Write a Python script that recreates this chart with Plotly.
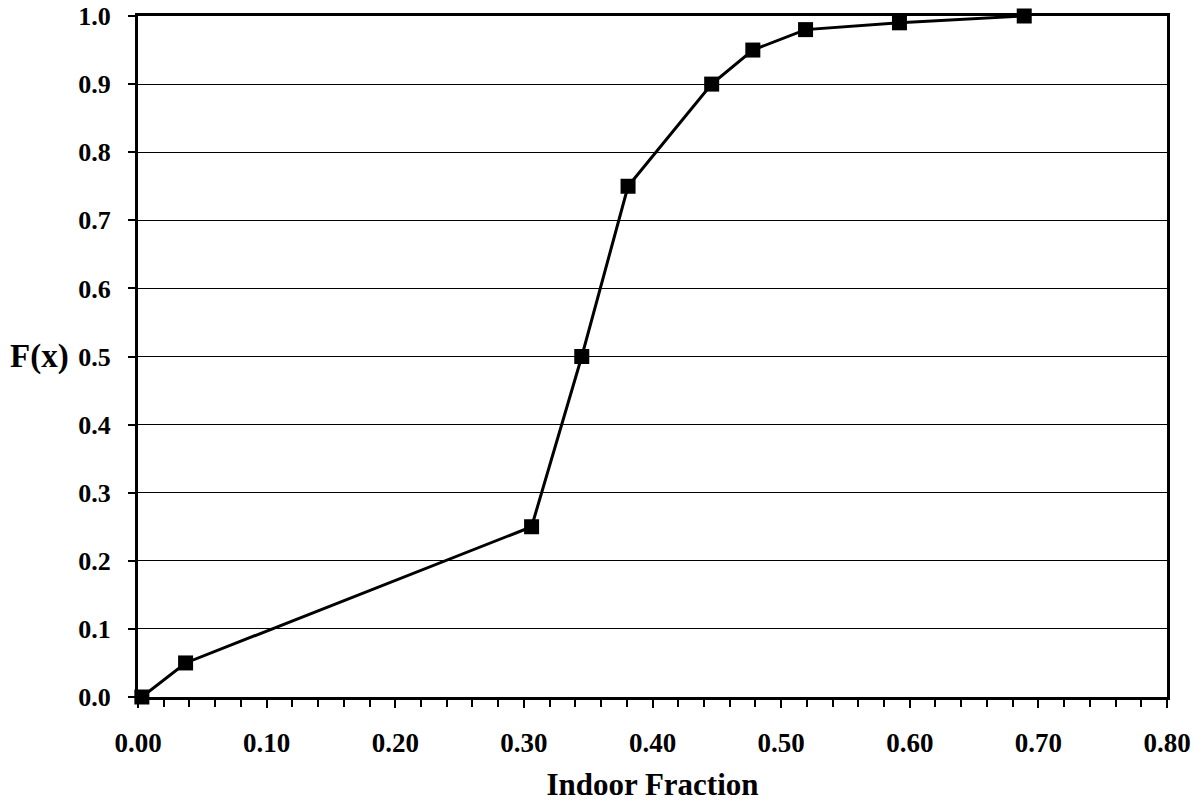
import plotly.graph_objects as go

# Indoor fraction cumulative distribution
indoor_fraction = [0.003, 0.037, 0.306, 0.345, 0.381, 0.446, 0.478, 0.519, 0.592, 0.689]
cum_prob = [0.0, 0.05, 0.25, 0.50, 0.75, 0.90, 0.95, 0.98, 0.99, 1.0]

x_ticks = [0.0, 0.1, 0.2, 0.3, 0.4, 0.5, 0.6, 0.7, 0.8]
y_ticks = [0.0, 0.1, 0.2, 0.3, 0.4, 0.5, 0.6, 0.7, 0.8, 0.9, 1.0]

serif = "Liberation Serif"

fig = go.Figure(go.Scatter(
    x=indoor_fraction, y=cum_prob,
    mode="lines+markers",
    line=dict(color="black", width=3),
    marker=dict(symbol="square", size=15, color="black"),
    cliponaxis=False,
))

fig.update_layout(
    width=1201, height=811,
    margin=dict(l=138, r=34, t=16, b=114),
    plot_bgcolor="white", paper_bgcolor="white",
    showlegend=False,
    font=dict(family=serif, color="black"),
)

fig.update_xaxes(
    range=[0, 0.8], tickvals=x_ticks, tickformat=".2f",
    tickfont=dict(family=serif, size=27, weight="bold"),
    showgrid=False, zeroline=False, automargin=False,
    showline=True, linecolor="black", linewidth=3, mirror=True,
    ticks="outside", ticklen=8, tickwidth=2, tickcolor="black",
    ticklabelstandoff=12, ticklabeloverflow="allow",
    minor=dict(dtick=0.02, ticks="outside", ticklen=7, tickwidth=2, tickcolor="black"),
    title=dict(text="Indoor Fraction", font=dict(family=serif, size=31, weight="bold"), standoff=16),
)

fig.update_yaxes(
    range=[0, 1.0], tickvals=y_ticks, tickformat=".1f",
    tickfont=dict(family=serif, size=26, weight="bold"),
    showgrid=True, gridcolor="black", gridwidth=1, zeroline=False, automargin=False,
    showline=True, linecolor="black", linewidth=3, mirror=True,
    ticks="outside", ticklen=7, tickwidth=2, tickcolor="black",
    ticklabelstandoff=12, ticklabeloverflow="allow",
)

fig.add_annotation(
    text="F(x)", xref="paper", yref="paper", x=-0.126, y=0.5,
    xanchor="left", yanchor="middle", showarrow=False,
    font=dict(family=serif, size=33, weight="bold"),
)

# drop the default 8px page margin so the figure sits at the window corner
fig.write_html("out.html", config={"displayModeBar": False},
               post_script="document.body.style.margin='0';")
